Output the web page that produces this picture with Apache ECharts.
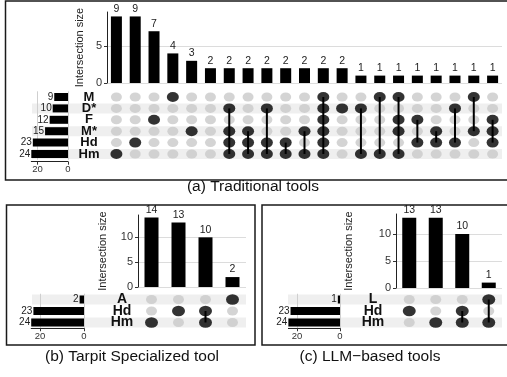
<!DOCTYPE html>
<html>
<head>
<meta charset="utf-8">
<script src="https://cdn.jsdelivr.net/npm/echarts@6/dist/echarts.min.js"></script>
<style>
  html, body { margin: 0; padding: 0; background: #fff; }
  #main { width: 507px; height: 377px; }
</style>
</head>
<body>
<div id="main"></div>
<script>
// ---- data: (a) Traditional tools ----
const setsA = ['M', 'D*', 'F', 'M*', 'Hd', 'Hm'];
const setSizesA = [9, 10, 12, 15, 23, 24];
const countsA = [9, 9, 7, 4, 3, 2, 2, 2, 2, 2, 2, 2, 2, 1, 1, 1, 1, 1, 1, 1, 1];
const membersA = [
  ['Hm'], ['Hd'], ['F'], ['M'], ['M*'], [],
  ['D*', 'M*', 'Hd', 'Hm'], ['M*', 'Hd', 'Hm'], ['D*', 'Hd', 'Hm'], ['Hd', 'Hm'],
  ['M*', 'Hm'], ['M', 'D*', 'F', 'M*', 'Hd', 'Hm'], ['D*'],
  ['D*', 'Hm'], ['M', 'Hm'], ['M', 'F', 'M*', 'Hm'], ['F', 'Hd'],
  ['M*', 'Hd'], ['D*', 'Hd'], ['M', 'M*'], ['F', 'M*', 'Hd']
];

// ---- data: (b) Tarpit Specialized tool ----
const setsB = ['A', 'Hd', 'Hm'];
const setSizesB = [2, 23, 24];
const countsB = [14, 13, 10, 2];
const membersB = [['Hm'], ['Hd'], ['Hd', 'Hm'], ['A']];

// ---- data: (c) LLM-based tools ----
const setsC = ['L', 'Hd', 'Hm'];
const setSizesC = [1, 23, 24];
const countsC = [13, 13, 10, 1];
const membersC = [['Hd'], ['Hm'], ['Hd', 'Hm'], ['L', 'Hm']];

const yTicksA = [0, 5];
const yTicksBC = [0, 5, 10];
const sizeTicks = [0, 20];

const FONT = 'Liberation Sans';
const chart = echarts.init(document.getElementById('main'));

const grid = [], xAxis = [], yAxis = [], series = [];

function addPanel(sets, sizes, counts, members, yTicks, L) {
  const g = grid.length;
  const cols = counts.map((_, i) => 'c' + i);
  const n = sets.length;
  const matTop = L.rowY0 - L.rowStep / 2;
  const matH = L.rowStep * n;

  // intersection bars
  grid.push({ left: L.barLeft, top: L.barTop, width: L.barW, height: L.barH });
  xAxis.push({ gridIndex: g, type: 'category', data: cols, show: false });
  yAxis.push({
    gridIndex: g, type: 'value', min: 0, max: L.yMax,
    name: 'Intersection size', nameLocation: 'middle', nameRotate: 90, nameGap: L.nameGap,
    nameTextStyle: { fontFamily: FONT, fontSize: 11, color: '#222' },
    axisLine: { show: true, lineStyle: { color: '#222', width: 1 } },
    axisTick: { show: true, length: 3, customValues: yTicks, lineStyle: { color: '#333' } },
    axisLabel: { customValues: yTicks, fontFamily: FONT, fontSize: 11, color: '#333', margin: 5 },
    splitLine: { show: true, lineStyle: { color: '#dcdcdc', width: 1 } }
  });
  // matrix (row names drawn above the stripes)
  grid.push({ left: L.barLeft, top: matTop, width: L.barW, height: matH });
  xAxis.push({ gridIndex: g + 1, type: 'category', data: cols, show: false });
  yAxis.push({
    gridIndex: g + 1, type: 'category', data: sets, inverse: true, z: 6,
    axisLine: { show: false }, axisTick: { show: false },
    axisLabel: { interval: 0, align: 'center', margin: L.labelMargin, fontFamily: FONT,
      fontWeight: 'bold', fontSize: L.rowFont, color: '#111' }
  });
  // set sizes
  grid.push({ left: L.sizeLeft, top: matTop, width: L.sizeW, height: matH });
  xAxis.push({
    gridIndex: g + 2, type: 'value', inverse: true, min: 0, max: 24, z: 3, offset: L.sizeOffset,
    axisLine: { show: true, lineStyle: { color: '#222' } },
    axisTick: { show: true, length: 3, customValues: sizeTicks, lineStyle: { color: '#333' } },
    axisLabel: { customValues: sizeTicks, fontFamily: FONT, fontSize: 9.5, color: '#333', margin: 3 },
    splitLine: { show: true, lineStyle: { color: '#cfcfcf' } }
  });
  yAxis.push({ gridIndex: g + 2, type: 'category', data: sets, inverse: true, show: false });
  // row stripes
  grid.push({ left: L.stripeLeft, top: matTop, width: L.stripeRight - L.stripeLeft, height: matH });
  xAxis.push({ gridIndex: g + 3, type: 'value', min: 0, max: 1, show: false });
  yAxis.push({ gridIndex: g + 3, type: 'category', data: sets, inverse: true, show: false });

  series.push({
    type: 'bar', xAxisIndex: g + 3, yAxisIndex: g + 3, silent: true, z: 1,
    barCategoryGap: '12%', itemStyle: { color: '#efefef' },
    data: sets.map((s, i) => ((n - 1 - i) % 2 === 0 ? 1 : '-'))
  });
  series.push({
    type: 'bar', xAxisIndex: g + 2, yAxisIndex: g + 2, z: 4, barWidth: L.sizeBarW,
    itemStyle: { color: '#000' }, data: sizes,
    label: { show: true, position: 'left', distance: 1, fontFamily: FONT, fontSize: 10, color: '#222' }
  });
  series.push({
    type: 'bar', xAxisIndex: g, yAxisIndex: g, z: 4, barWidth: L.colBarW,
    itemStyle: { color: '#000' }, data: counts,
    label: { show: true, position: 'top', distance: 2, fontFamily: FONT, fontSize: 10.5, color: '#222' }
  });

  const grey = [], black = [], links = [];
  members.forEach((m, c) => {
    const idx = m.map(s => sets.indexOf(s));
    sets.forEach((s, r) => { if (idx.indexOf(r) < 0) grey.push([c, r]); });
    idx.forEach(r => black.push([c, r]));
    if (idx.length > 1) links.push([c, Math.min(...idx), Math.max(...idx)]);
  });
  series.push({
    type: 'scatter', xAxisIndex: g + 1, yAxisIndex: g + 1, z: 3, silent: true,
    symbolSize: L.greyDot, itemStyle: { color: '#c9c9c9' }, data: grey
  });
  series.push({
    type: 'custom', xAxisIndex: g + 1, yAxisIndex: g + 1, z: 4, silent: true,
    encode: { x: 0, y: [1, 2] }, data: links,
    renderItem: function (params, api) {
      const p1 = api.coord([api.value(0), api.value(1)]);
      const p2 = api.coord([api.value(0), api.value(2)]);
      return { type: 'line', shape: { x1: p1[0], y1: p1[1], x2: p2[0], y2: p2[1] },
        style: { stroke: '#000', lineWidth: 2 } };
    }
  });
  series.push({
    type: 'scatter', xAxisIndex: g + 1, yAxisIndex: g + 1, z: 5, silent: true,
    symbolSize: L.dot, itemStyle: { color: '#000' }, data: black
  });
}

addPanel(setsA, setSizesA, countsA, membersA, yTicksA, {
  barLeft: 107, barW: 395, barTop: 12, barH: 71, yMax: 9.6, nameGap: 22,
  rowY0: 97, rowStep: 11.4, labelMargin: 18, rowFont: 13, colBarW: 11, dot: [12, 10], greyDot: [11, 9],
  sizeLeft: 31.3, sizeW: 36.7, sizeBarW: 8, sizeOffset: 2,
  stripeLeft: 32, stripeRight: 502
});
addPanel(setsB, setSizesB, countsB, membersB, yTicksBC, {
  barLeft: 138, barW: 108, barTop: 215, barH: 72, yMax: 14.5, nameGap: 30,
  rowY0: 299.5, rowStep: 11.5, labelMargin: 16, rowFont: 14, colBarW: 14, dot: [13, 10.5], greyDot: [11, 9],
  sizeLeft: 31.2, sizeW: 52.8, sizeBarW: 8, sizeOffset: 0,
  stripeLeft: 32, stripeRight: 246
});
addPanel(setsC, setSizesC, countsC, membersC, yTicksBC, {
  barLeft: 396, barW: 106, barTop: 214, barH: 74, yMax: 13.7, nameGap: 42,
  rowY0: 299.5, rowStep: 11.5, labelMargin: 23, rowFont: 14, colBarW: 14, dot: [13, 10.5], greyDot: [11, 9],
  sizeLeft: 288.4, sizeW: 51.6, sizeBarW: 8, sizeOffset: 0,
  stripeLeft: 288, stripeRight: 502
});

const box = (x, y, w, h) => ({
  type: 'rect', shape: { x: x, y: y, width: w, height: h }, z: 10, silent: true,
  style: { fill: null, stroke: '#1a1a1a', lineWidth: 1.5 }
});
const caption = (x, y, text) => ({
  type: 'text', x: x, y: y, z: 10, silent: true,
  style: { text: text, fill: '#111', font: '15.5px "' + FONT + '"', textAlign: 'center', textVerticalAlign: 'middle' }
});

chart.setOption({
  animation: false,
  grid: grid, xAxis: xAxis, yAxis: yAxis, series: series,
  graphic: [
    box(5.5, 1, 510, 179),
    box(6.5, 205, 248.5, 140),
    box(262, 205, 250, 140),
    caption(253, 187, '(a) Traditional tools'),
    caption(132, 357, '(b) Tarpit Specialized tool'),
    caption(370, 357, '(c) LLM\u2212based tools')
  ]
});
</script>
</body>
</html>
